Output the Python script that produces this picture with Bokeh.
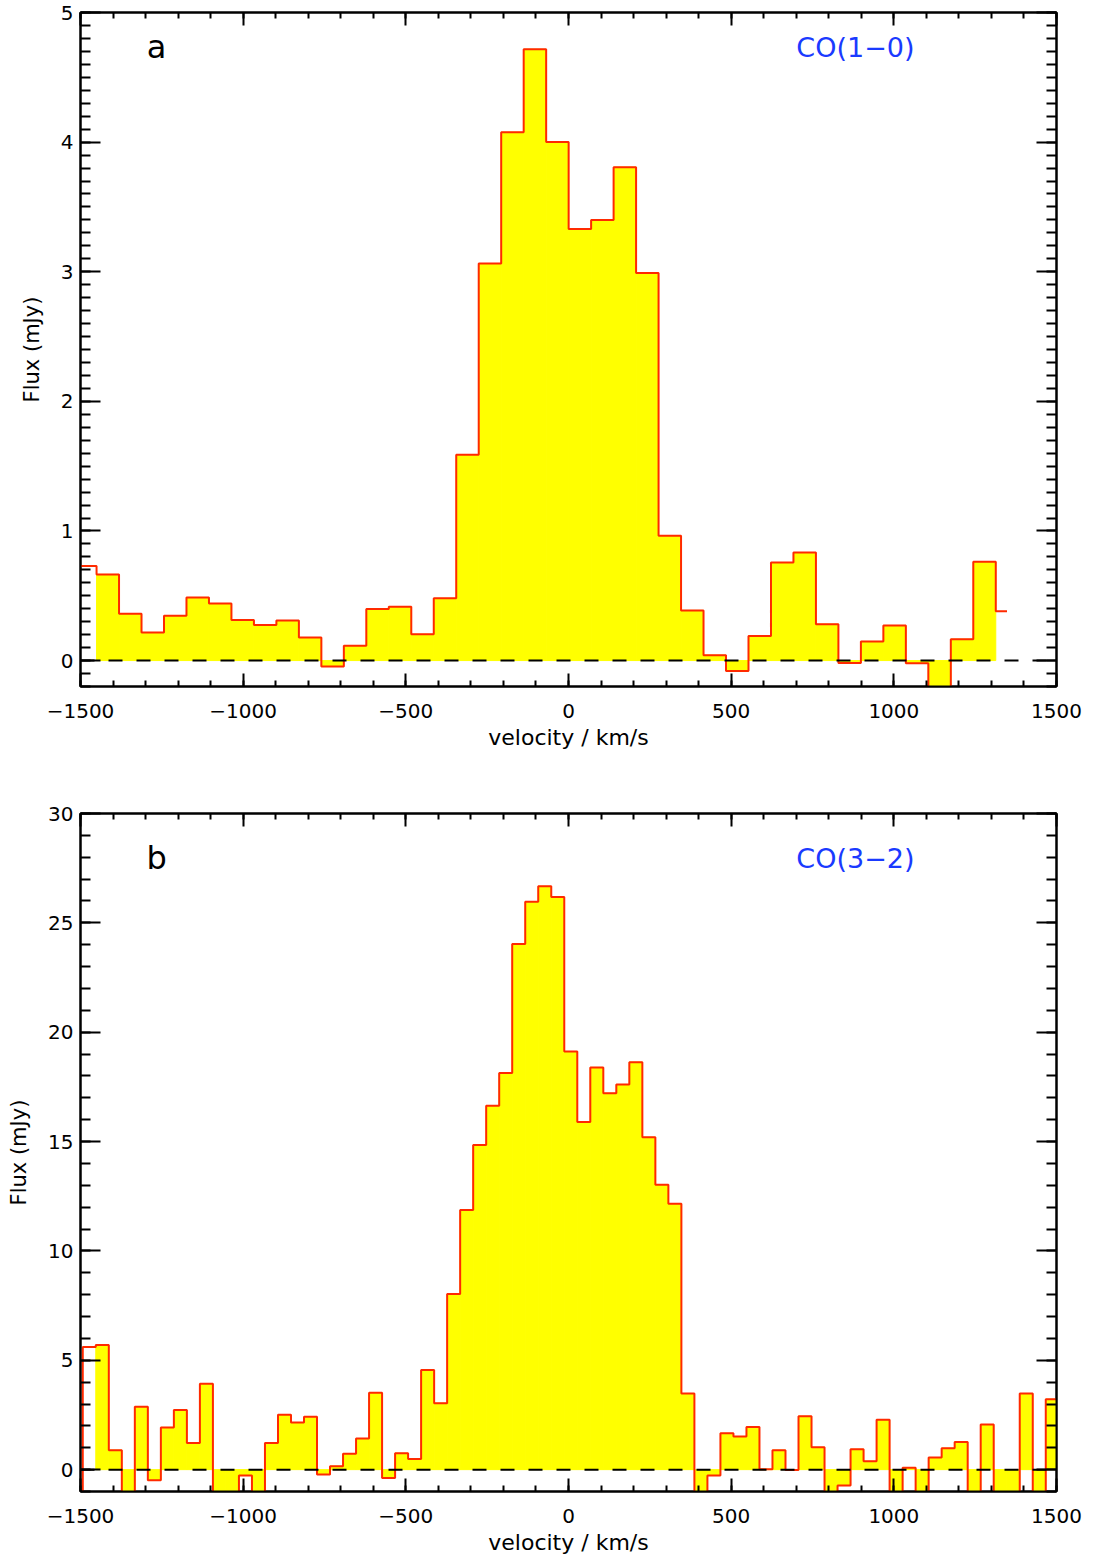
from bokeh.plotting import figure
from bokeh.models import Range1d, FixedTicker, LinearAxis, Span, Label
from bokeh.layouts import column
from bokeh.embed import file_html
from bokeh.resources import INLINE

# ---------------- data ----------------
# Panel a: CO(1-0), channel velocities (km/s) and flux (mJy)
vel_a = [-1554.3, -1485.2, -1416.1, -1347.0, -1277.9, -1208.8, -1139.7, -1070.6,
         -1001.5, -932.4, -863.3, -794.2, -725.1, -656.0, -586.9, -517.8,
         -448.7, -379.6, -310.5, -241.4, -172.3, -103.2, -34.1, 35.0,
         104.1, 173.2, 242.3, 311.4, 380.5, 449.6, 518.7, 587.8,
         656.9, 726.0, 795.1, 864.2, 933.3, 1002.4, 1071.5, 1140.6,
         1209.7, 1278.8, 1347.9]
flux_a = [0.73, 0.73, 0.665, 0.362, 0.217, 0.345, 0.487, 0.44,
          0.313, 0.274, 0.309, 0.178, -0.046, 0.114, 0.398, 0.416,
          0.203, 0.48, 1.588, 3.063, 4.076, 4.716, 4.0, 3.33,
          3.40, 3.807, 2.991, 0.963, 0.387, 0.042, -0.081, 0.19,
          0.756, 0.833, 0.281, -0.018, 0.148, 0.271, -0.021, -0.30,
          0.165, 0.763, 0.38]

# Panel b: CO(3-2)
vel_b = [-1513, -1473, -1433, -1393, -1353, -1313, -1273, -1233, -1193, -1153,
         -1113, -1073, -1033, -993, -953, -913, -873, -833, -793, -753,
         -713, -673, -633, -593, -553, -513, -473, -433, -393, -353,
         -313, -273, -233, -193, -153, -113, -73, -33, 7, 47,
         87, 127, 167, 207, 247, 287, 327, 367, 407, 447,
         487, 527, 567, 607, 647, 687, 727, 767, 807, 847,
         887, 927, 967, 1007, 1047, 1087, 1127, 1167, 1207, 1247,
         1287, 1327, 1367, 1407, 1447, 1487, 1527]
flux_b = [-2.0, 5.61, 5.70, 0.89, -1.8, 2.88, -0.49, 1.93, 2.73, 1.22,
          3.93, -1.6, -1.4, -0.27, -1.5, 1.22, 2.51, 2.15, 2.42, -0.22,
          0.16, 0.73, 1.42, 3.51, -0.38, 0.75, 0.49, 4.55, 3.04, 8.03,
          11.87, 14.84, 16.64, 18.13, 24.03, 25.96, 26.67, 26.18, 19.12, 15.9,
          18.39, 17.21, 17.61, 18.63, 15.2, 13.02, 12.16, 3.48, -1.5, -0.27,
          1.66, 1.51, 1.95, 0.02, 0.89, -0.02, 2.44, 1.02, -1.7, -0.73,
          0.93, 0.38, 2.28, -1.6, 0.09, -1.5, 0.55, 0.98, 1.26, -1.8,
          2.06, -1.6, -1.7, 3.48, -1.5, 3.22, 3.22]

x_ticks = [-1500, -1000, -500, 0, 500, 1000, 1500]
x_tick_labels = ["\u22121500", "\u22121000", "\u2212500", "0", "500", "1000", "1500"]
x_minor = list(range(-1500, 1501, 100))

ya_ticks = [0, 1, 2, 3, 4, 5]
ya_minor = [round(-0.2 + 0.1 * i, 2) for i in range(53)]
yb_ticks = [0, 5, 10, 15, 20, 25, 30]
yb_minor = list(range(-1, 31))

FONT = "DejaVu Sans"
RED = "#ff2a00"
YELLOW = "#ffff00"


def style_axis(ax, tick_in, minor_in, show_labels):
    ax.axis_line_width = 2
    ax.axis_line_color = "black"
    ax.major_tick_in = tick_in
    ax.major_tick_out = 0
    ax.minor_tick_in = minor_in
    ax.minor_tick_out = 0
    ax.major_tick_line_width = 2
    ax.minor_tick_line_width = 2
    ax.major_tick_line_color = "black"
    ax.minor_tick_line_color = "black"
    ax.major_label_text_font = FONT
    ax.major_label_text_color = "black"
    ax.axis_label_text_font = FONT
    ax.axis_label_text_font_style = "normal"
    ax.axis_label_text_color = "black"
    if not show_labels:
        ax.major_label_text_color = None
        ax.major_label_text_font_size = "1px"
        ax.major_label_standoff = 0
        ax.axis_label = None


def panel(vel, flux, yr, yticks, yminor, letter, line_name, height,
          mb_top, mb_bottom, text_y):
    p = figure(width=1098, height=height, output_backend="svg",
               toolbar_location=None,
               x_range=Range1d(-1500, 1500), y_range=Range1d(*yr),
               min_border_left=80, min_border_right=42,
               min_border_top=mb_top, min_border_bottom=mb_bottom)
    p.xgrid.visible = False
    p.ygrid.visible = False
    p.outline_line_color = "black"
    p.outline_line_width = 2
    p.background_fill_color = "white"
    p.border_fill_color = "white"

    n = len(vel)
    idx = range(2, n - 1)
    left = [(vel[i - 1] + vel[i]) / 2 for i in idx]
    right = [(vel[i] + vel[i + 1]) / 2 for i in idx]
    top = [flux[i] for i in idx]
    p.quad(left=left, right=right, top=top, bottom=0,
           fill_color=YELLOW, line_color=YELLOW, line_width=1)
    p.add_layout(Span(location=0, dimension="width", line_color="black",
                      line_width=2, line_dash="14 14"))
    p.step(vel, flux, mode="center", line_color=RED, line_width=2)

    xt = FixedTicker(ticks=x_ticks, minor_ticks=x_minor)
    yt = FixedTicker(ticks=yticks, minor_ticks=yminor)

    p.xaxis.ticker = xt
    p.xaxis.major_label_overrides = {t: l for t, l in zip(x_ticks, x_tick_labels)}
    p.xaxis.axis_label = "velocity / km/s"
    style_axis(p.xaxis[0], 13, 6, True)
    p.xaxis.major_label_text_font_size = "20px"
    p.xaxis.major_label_standoff = 17
    p.xaxis.axis_label_text_font_size = "22px"
    p.xaxis.axis_label_standoff = 4

    p.yaxis.ticker = yt
    p.yaxis.axis_label = "Flux (mJy)"
    style_axis(p.yaxis[0], 20, 10, True)
    p.yaxis.major_label_text_font_size = "20px"
    p.yaxis.major_label_standoff = 7
    p.yaxis.axis_label_text_font_size = "21px"
    p.yaxis.axis_label_standoff = 14

    top_ax = LinearAxis(ticker=xt)
    style_axis(top_ax, 13, 6, False)
    p.add_layout(top_ax, "above")
    right_ax = LinearAxis(ticker=yt)
    style_axis(right_ax, 20, 10, False)
    p.add_layout(right_ax, "right")

    p.add_layout(Label(x=-1266, y=text_y, text=letter, text_align="center",
                       text_baseline="alphabetic", text_font=FONT,
                       text_font_size="32px", text_color="black"))
    p.add_layout(Label(x=882, y=text_y, text=line_name, text_align="center",
                       text_baseline="alphabetic", text_font=FONT,
                       text_font_size="27px", text_color="#1a3aff"))
    return p


p1 = panel(vel_a, flux_a, (-0.2, 5), ya_ticks, ya_minor, "a", "CO(1\u22120)",
           790, 12, 104, 4.73)
p2 = panel(vel_b, flux_b, (-1, 30), yb_ticks, yb_minor, "b", "CO(3\u22122)",
           771, 23, 70, 27.96)

layout = column(p1, p2, spacing=0)
open("out.html", "w").write(file_html(layout, INLINE))
